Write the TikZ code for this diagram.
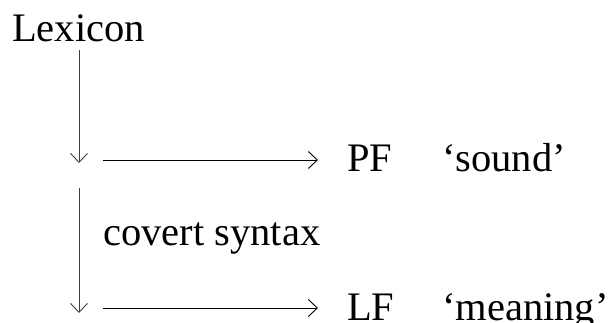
\documentclass[tikz,border=0pt]{standalone}
\usepackage{fontspec}
\setmainfont{Liberation Serif}
\usetikzlibrary{arrows.meta}
\begin{document}
\begin{tikzpicture}[x=1pt,y=-1pt,
  lbl/.style={anchor=base west,inner sep=0pt,font=\fontsize{40.5}{46}\selectfont},
  flow/.style={line width=0.9pt,-{Straight Barb[length=9pt,width=17pt,line width=0.9pt]}},
  vflow/.style={flow,draw=black!75}]
\useasboundingbox (0,0) rectangle (609,323);
% entries
\node[lbl] (lex) at (12,42) {Lexicon};
\node[lbl] (pf) at (347,171) {PF};
\node[lbl] (sound) at (442,171) {`sound'};
\node[lbl] (cov) at (103,245) {covert syntax};
\node[lbl] (lf) at (347,320) {LF};
\node[lbl] (mean) at (442,320) {`meaning'};
% arrow end points
\coordinate (v1a) at (79,50);
\coordinate (v1b) at (79,163);
\coordinate (v2a) at (79,188);
\coordinate (v2b) at (79,313);
\coordinate (h1a) at (103,160);
\coordinate (h1b) at (318,160);
\coordinate (h2a) at (103,308);
\coordinate (h2b) at (318,308);
% derivation arrows
\draw[vflow] (v1a) -- (v1b);
\draw[vflow] (v2a) -- (v2b);
\draw[flow] (h1a) -- (h1b);
\draw[flow] (h2a) -- (h2b);
\end{tikzpicture}
\end{document}
